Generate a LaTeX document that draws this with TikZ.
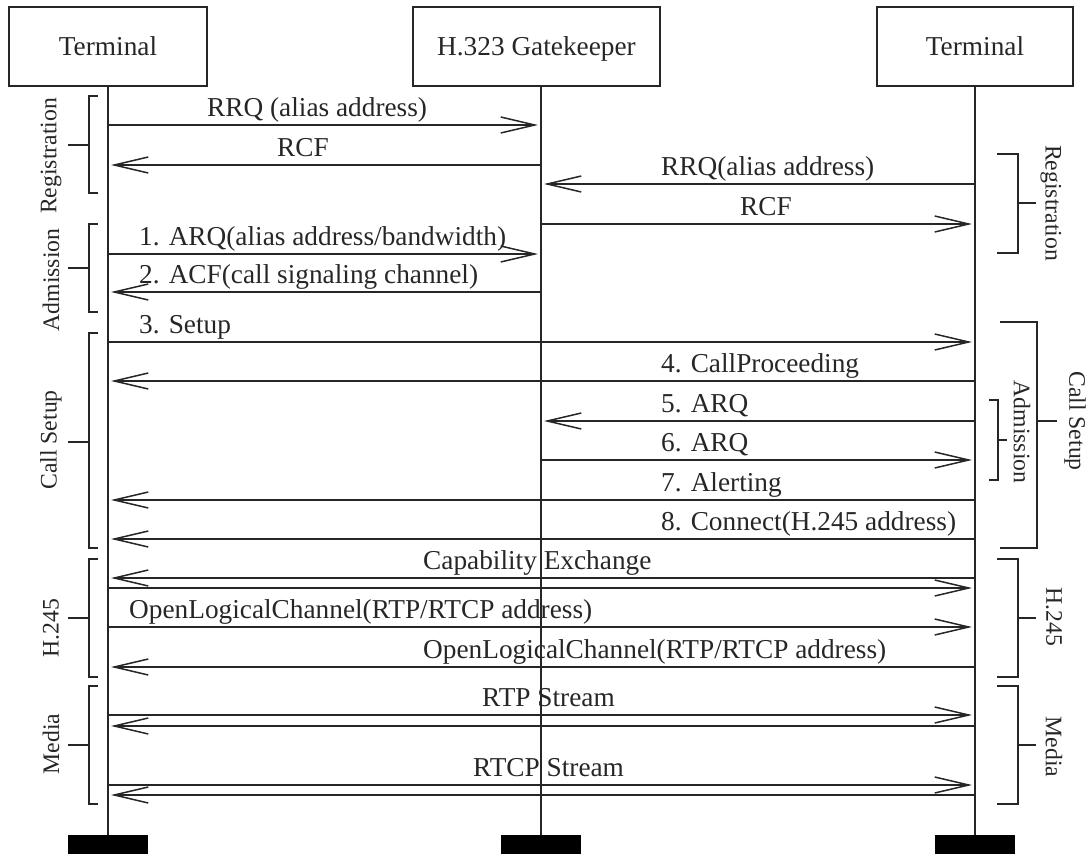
\documentclass[tikz,border=0pt]{standalone}
\usepackage{fontspec}
\setmainfont{Liberation Serif}
\usetikzlibrary{arrows.meta, positioning}

\tikzset{
  entity/.style={draw, line width=1.5pt, minimum width=198pt, minimum height=79pt, inner sep=0pt,
    text height=18.5pt, text depth=0.5pt, font=\fontsize{27.3}{30}\selectfont},
  endbar/.style={fill=black, minimum width=80pt, minimum height=19pt, inner sep=0pt},
  msg/.style={line width=1.5pt, -{Straight Barb[length=34pt,width=16pt]}, shorten >=3pt},
  msgtext/.style={anchor=base west, inner sep=0pt, font=\fontsize{27.3}{30}\selectfont},
  grp/.style={line width=1.5pt},
  grptext/.style={inner sep=0pt, font=\fontsize{23.7}{26}\selectfont}
}

\begin{document}
\begin{tikzpicture}[x=1pt, y=-1pt, black!85]
  \useasboundingbox (0,0) rectangle (1086,854);
  % the three parties
  \node[entity] (tA) at (108,46.5) {Terminal};
  \node[entity, minimum width=247pt] (gk) at (536.5,46.5) {H.323 Gatekeeper};
  \node[entity, minimum width=196pt] (tB) at (975,46.5) {Terminal};
  \node[endbar] (endA) at (108,844.5) {};
  \node[endbar] (endG) at (541,844.5) {};
  \node[endbar] (endB) at (975,844.5) {};
  \draw[line width=1.5pt] (tA.south) -- (endA.north);
  \draw[line width=1.5pt] (endG.north |- gk.south) -- (endG.north);
  \draw[line width=1.5pt] (tB.south) -- (endB.north);

  % single messages
  \foreach \y/\s/\e/\lx/\txt in {
      125/endA/endG/207/{RRQ (alias address)},
      165/endG/endA/277/{RCF},
      184/endB/endG/661/{RRQ(alias address)},
      224/endG/endB/740/{RCF},
      254/endA/endG/139/{1. ARQ(alias address/bandwidth)},
      292/endG/endA/139/{2. ACF(call signaling channel)},
      342/endA/endB/139/{3. Setup},
      381/endB/endA/661/{4. CallProceeding},
      421/endB/endG/661/{5. ARQ},
      460/endG/endB/661/{6. ARQ},
      500/endB/endA/661/{7. Alerting},
      539/endB/endA/661/{8. Connect(H.245 address)},
      627/endA/endB/129/{OpenLogicalChannel(RTP/RTCP address)},
      667/endB/endA/423/{OpenLogicalChannel(RTP/RTCP address)}}
  {
    \draw[msg] (\s |- 0,\y) -- (\e |- 0,\y);
    \node[msgtext] at (\lx,\y-9) {\txt};
  }

  % both-way messages
  \draw[msg] (endB |- 0,578) -- (endA |- 0,578);
  \draw[msg] (endA |- 0,588) -- (endB |- 0,588);
  \node[msgtext] (capex) at (423,569) {Capability Exchange};
  \draw[msg] (endA |- 0,715) -- (endB |- 0,715);
  \draw[msg] (endB |- 0,726) -- (endA |- 0,726);
  \node[msgtext] (rtp) at (482,706) {RTP Stream};
  \draw[msg] (endA |- 0,785) -- (endB |- 0,785);
  \draw[msg] (endB |- 0,795) -- (endA |- 0,795);
  \node[msgtext] (rtcp) at (473,776) {RTCP Stream};

  % phase brackets, left
  \foreach \top/\bot/\mid/\ty/\txt in {96/193/145/156/Registration, 224/312/268/280/Admission,
      333/548/442/440/{Call Setup}, 559/677/618/628/{H.245}, 686/804/745/744/Media}
  {
    \draw[grp] (98,\top) -- (89,\top) -- (89,\bot) -- (98,\bot) (89,\mid) -- (68,\mid);
    \node[grptext, rotate=90] at (51,\ty) {\txt};
  }
  % phase brackets, right
  \foreach \vx/\tx/\ex/\top/\bot/\mid/\lx/\ty/\txt in {
      1018/997/1036/154/253/203/1051/203/Registration,
      1037/1000/1057/322/548/421/1075/421/{Call Setup},
      998/989/1007/400/480/440/1022/432/Admission,
      1018/997/1036/559/677/618/1054/617/{H.245},
      1018/997/1036/686/804/745/1054/747/Media}
  {
    \draw[grp] (\tx,\top) -- (\vx,\top) -- (\vx,\bot) -- (\tx,\bot) (\vx,\mid) -- (\ex,\mid);
    \node[grptext, rotate=-90] at (\lx,\ty) {\txt};
  }
\end{tikzpicture}
\end{document}
